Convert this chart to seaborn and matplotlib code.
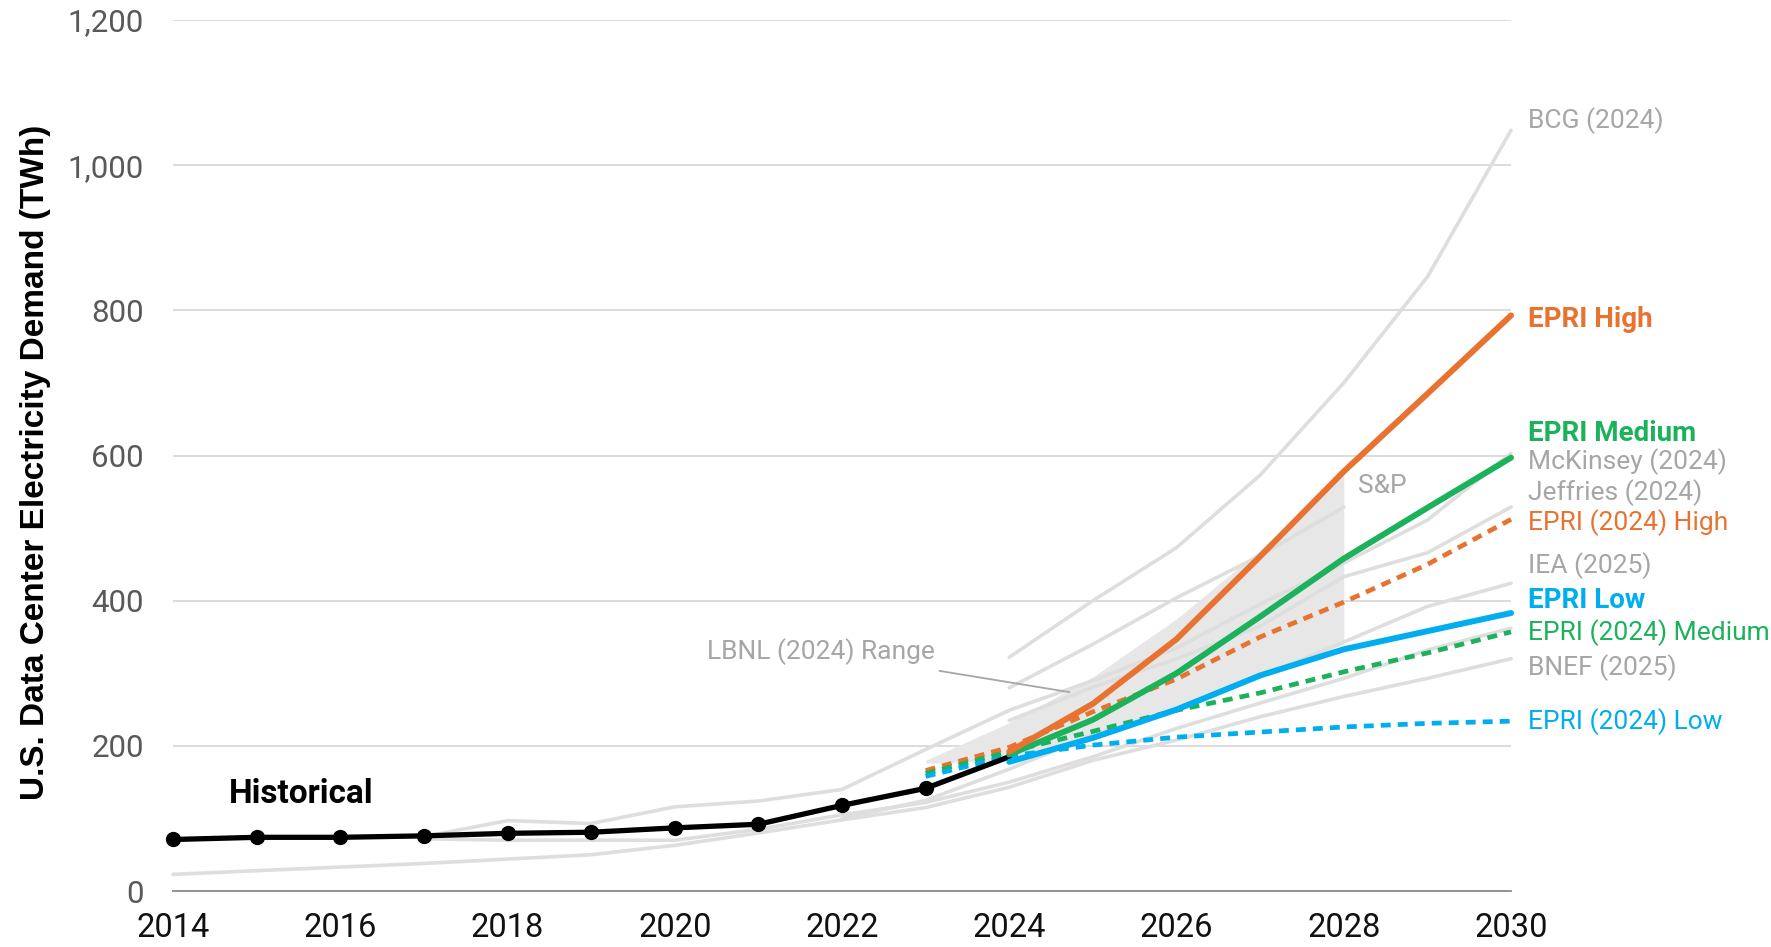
import matplotlib
matplotlib.use("Agg")
import matplotlib.pyplot as plt
import seaborn as sns
import numpy as np

# ---------------- data ----------------
hist_years = [2014, 2015, 2016, 2017, 2018, 2019, 2020, 2021, 2022, 2023, 2024]
hist_vals = [71, 74, 74, 76, 79.5, 81, 87, 92, 118, 141.5, 185]

epri_years = [2024, 2025, 2026, 2027, 2028, 2029, 2030]
epri_high = [192, 258, 347, 461, 578, 685, 793]
epri_med = [188, 236, 300, 378, 458, 528, 597]
epri_low = [178, 211, 250, 297, 333, 358, 383]

epri24_years = [2023, 2024, 2025, 2026, 2027, 2028, 2029, 2030]
epri24_high = [166, 198, 247, 292, 350, 398, 450, 512]
epri24_med = [162, 192, 220, 249, 273, 302, 328, 357]
epri24_low = [158, 186, 201, 212, 219, 226, 231, 234]

bcg_years = [2024, 2025, 2026, 2027, 2028, 2029, 2030]
bcg_vals = [322, 400, 473, 573, 700, 846, 1048]
sp_years = [2024, 2025, 2026, 2027, 2028]
sp_vals = [280, 340, 404, 462, 529]
mck_years = [2017, 2018, 2019, 2020, 2021, 2022, 2023, 2024, 2025, 2026, 2027, 2028, 2029, 2030]
mck_vals = [75, 97, 93, 116, 124, 140, 195, 249, 290, 335, 395, 452, 511, 603]
jef_years = [2024, 2025, 2026, 2027, 2028, 2029, 2030]
jef_vals = [235, 281, 320, 365, 433, 466, 529]
iea_years = [2022, 2023, 2024, 2025, 2026, 2027, 2028, 2029, 2030]
iea_vals = [100, 125, 168, 215, 250, 295, 343, 392, 424]
oth_years = [2017, 2018, 2019, 2020, 2021, 2022, 2023, 2024, 2025, 2026, 2027, 2028, 2029, 2030]
oth_vals = [72, 70, 70, 70, 85, 105, 122, 150, 185, 224, 259, 293, 332, 362]
bnef_years = list(range(2014, 2031))
bnef_vals = [23, 28, 33, 38, 44, 50, 63, 80, 98, 115, 143, 180, 208, 240, 268, 293, 320]

lbnl_years = [2023, 2024, 2025, 2026, 2027, 2028]
lbnl_low = [176, 180, 215, 250, 295, 340]
lbnl_high = [180, 232, 295, 375, 470, 575]

y_ticks = [0, 200, 400, 600, 800, 1000, 1200]
x_ticks = [2014, 2016, 2018, 2020, 2022, 2024, 2026, 2028, 2030]

right_labels = [
    ("BCG (2024)", 1061, "#A6A6A6", "normal"),
    ("EPRI High", 787, "#E87331", "bold"),
    ("EPRI Medium", 631, "#1CB25B", "bold"),
    ("McKinsey (2024)", 592, "#A6A6A6", "normal"),
    ("Jeffries (2024)", 549, "#A6A6A6", "normal"),
    ("EPRI (2024) High", 508, "#E87331", "normal"),
    ("IEA (2025)", 449, "#A6A6A6", "normal"),
    ("EPRI Low", 400, "#00AEEF", "bold"),
    ("EPRI (2024) Medium", 356, "#1CB25B", "normal"),
    ("BNEF (2025)", 308, "#A6A6A6", "normal"),
    ("EPRI (2024) Low", 233, "#00AEEF", "normal"),
]

# ---------------- style ----------------
sns.set_theme(style="white")
plt.rcParams["font.family"] = ["Roboto", "DejaVu Sans"]

ORANGE = "#E87331"
GREEN = "#1CB25B"
BLUE = "#00AEEF"
GRAYL = "#DEDEDE"
TXTG = "#A6A6A6"

fig = plt.figure(figsize=(17.71, 9.47), dpi=100)
ax = fig.add_axes([0.0977, 0.0591, 0.7555, 0.9198])

# shaded LBNL range
ax.fill_between(lbnl_years, lbnl_low, lbnl_high, color="#E7E7E7", lw=0, zorder=1)

# gray comparison lines
for yrs, vals in [(bcg_years, bcg_vals), (sp_years, sp_vals), (mck_years, mck_vals),
                  (jef_years, jef_vals), (iea_years, iea_vals), (oth_years, oth_vals),
                  (bnef_years, bnef_vals)]:
    sns.lineplot(x=yrs, y=vals, ax=ax, color=GRAYL, linewidth=2.6, zorder=2,
                 solid_capstyle="round", clip_on=False)

# EPRI 2024 dashed
dash = (0, (2.1, 1.5))
for vals, c in [(epri24_high, ORANGE), (epri24_med, GREEN), (epri24_low, BLUE)]:
    sns.lineplot(x=epri24_years, y=vals, ax=ax, color=c, linewidth=3.4,
                 linestyle=dash, zorder=3, clip_on=False)

# historical
sns.lineplot(x=hist_years, y=hist_vals, ax=ax, color="black", linewidth=3.8,
             marker="o", markersize=11, markeredgewidth=0, markevery=list(range(10)),
             zorder=4, clip_on=False)

# EPRI solid
for vals, c in [(epri_low, BLUE), (epri_med, GREEN), (epri_high, ORANGE)]:
    sns.lineplot(x=epri_years, y=vals, ax=ax, color=c, linewidth=4.3, zorder=5,
                 clip_on=False)

# axes
ax.set_xlim(2014, 2030)
ax.set_ylim(0, 1200)
ax.set_yticks(y_ticks)
ax.set_yticklabels([f"{v:,}" for v in y_ticks])
ax.set_xticks(x_ticks)
ax.set_xticklabels([str(v) for v in x_ticks])
ax.grid(axis="y", color="#D9D9D9", linewidth=1.3, zorder=0)
ax.grid(axis="x", visible=False)
for s in ["top", "right", "left"]:
    ax.spines[s].set_visible(False)
ax.spines["bottom"].set_color("#8C8C8C")
ax.spines["bottom"].set_linewidth(1.3)
ax.tick_params(axis="y", length=0, pad=21, labelsize=22.5, labelcolor="#595959")
ax.tick_params(axis="x", length=0, pad=15, labelsize=23.5, labelcolor="#111111")
ax.set_xlabel("")
ax.set_ylabel("")

fig.text(0.0203, 0.512, "U.S. Data Center Electricity Demand (TWh)", rotation=90,
         ha="center", va="center", fontsize=24, fontweight="bold",
         family=["Liberation Sans", "DejaVu Sans"], color="black")

# labels
ax.text(2014.67, 133, "Historical", fontsize=24, fontweight="bold", color="black",
        ha="left", va="center")
for txt, yv, col, wt in right_labels:
    ax.text(2030.2, yv, txt, fontsize=20 if wt == "bold" else 19, fontweight=wt,
            color=col, ha="left", va="center", clip_on=False)
ax.text(2028.17, 558, "S&P", fontsize=19, color=TXTG, ha="left", va="center")
ax.annotate("LBNL (2024) Range", xy=(2024.72, 274), xytext=(2023.11, 330),
            fontsize=19, color=TXTG, ha="right", va="center",
            arrowprops=dict(arrowstyle="-", color="#A6A6A6", lw=1.3,
                            shrinkA=12, shrinkB=0))

fig.savefig("out.png", dpi=100)
